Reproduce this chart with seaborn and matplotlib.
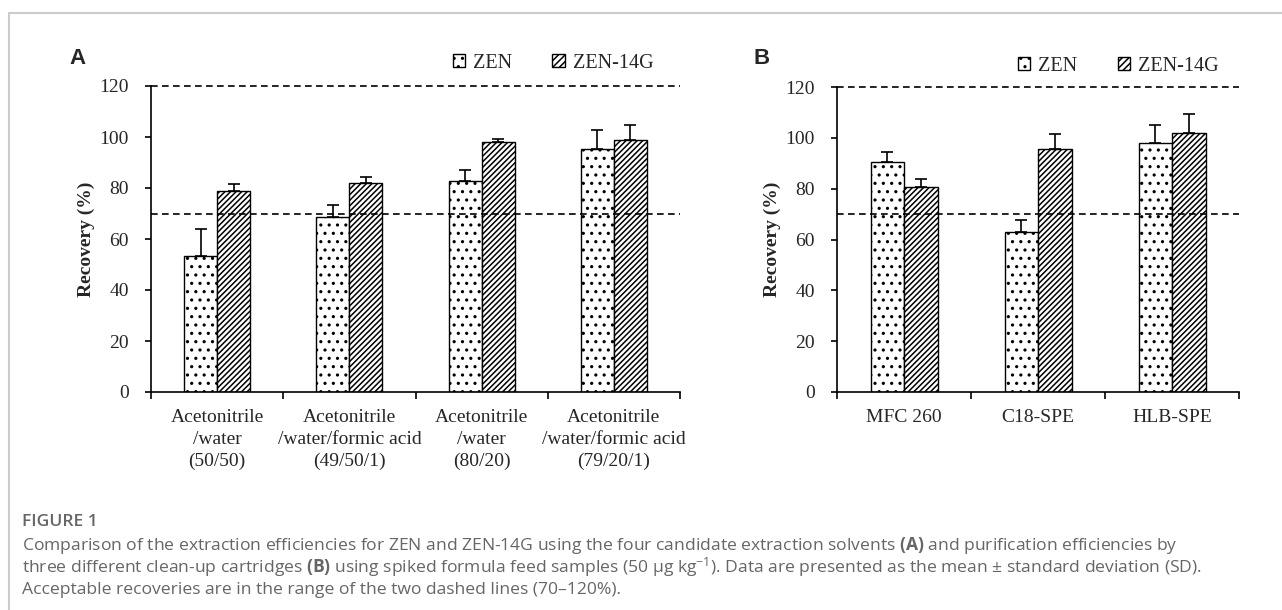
import matplotlib
matplotlib.use("Agg")
import matplotlib.pyplot as plt
import seaborn as sns
import pandas as pd
import numpy as np
from matplotlib.patches import Patch
from matplotlib.lines import Line2D
from matplotlib.ticker import FixedLocator
from matplotlib.container import BarContainer

# ---------------- data ----------------
solvents = ["Acetonitrile\n/water\n(50/50)",
            "Acetonitrile\n/water/formic acid\n(49/50/1)",
            "Acetonitrile\n/water\n(80/20)",
            "Acetonitrile\n/water/formic acid\n(79/20/1)"]
zen_a = [53.5, 68.6, 82.9, 95.2]
zen_a_sd = [10.6, 4.8, 4.3, 7.7]
g_a = [79.0, 82.1, 98.0, 98.9]
g_a_sd = [2.6, 2.2, 1.4, 5.8]

cartridges = ["MFC 260", "C18-SPE", "HLB-SPE"]
zen_b = [90.5, 63.0, 97.9]
zen_b_sd = [3.8, 4.7, 7.3]
g_b = [80.8, 95.7, 102.0]
g_b_sd = [3.0, 6.0, 7.2]

series = ["ZEN", "ZEN-14G"]
lower_limit = 70
upper_limit = 120
yticks = [0, 20, 40, 60, 80, 100, 120]

caption_title = "FIGURE 1"
caption_lines = [
    r"Comparison of the extraction efficiencies for ZEN and ZEN-14G using the four candidate extraction solvents $\mathbf{(A)}$ and purification efficiencies by",
    r"three different clean-up cartridges $\mathbf{(B)}$ using spiked formula feed samples (50 µg kg$^{-1}$). Data are presented as the mean ± standard deviation (SD).",
    r"Acceptable recoveries are in the range of the two dashed lines (70–120%).",
]

# ---------------- style ----------------
sns.set_theme(style="white")
plt.rcParams["font.family"] = ["Liberation Serif", "DejaVu Serif"]
plt.rcParams["mathtext.fontset"] = "custom"
plt.rcParams["mathtext.rm"] = "Open Sans"
plt.rcParams["mathtext.bf"] = "Open Sans:bold"
plt.rcParams["mathtext.it"] = "Open Sans:italic"
plt.rcParams["hatch.linewidth"] = 1.1
plt.rcParams["hatch.color"] = "black"

W, H = 1282, 610
fig = plt.figure(figsize=(W / 100, H / 100), dpi=100)

hatches = ["..", "//////"]
FS = 14


def panel(rect, cats, v1, s1, v2, s2, leg_xy, letter, letter_xy):
    ax = fig.add_axes(rect)
    df = pd.DataFrame({
        "cat": list(cats) * 2,
        "series": [series[0]] * len(cats) + [series[1]] * len(cats),
        "val": list(v1) + list(v2),
    })
    sns.barplot(data=df, x="cat", y="val", hue="series", hue_order=series,
                order=cats, palette=["white", "white"], width=0.5,
                edgecolor="black", linewidth=1.0, errorbar=None,
                legend=False, ax=ax, saturation=1)
    sds = [s1, s2]
    vals = [v1, v2]
    bar_conts = [c for c in ax.containers if isinstance(c, BarContainer)]
    for i, cont in enumerate(bar_conts):
        xs = []
        for p in cont.patches:
            p.set_hatch(hatches[i])
            p.set_edgecolor("black")
            p.set_facecolor("white")
            xs.append(p.get_x() + p.get_width() / 2)
        ax.errorbar(xs, vals[i], yerr=[np.zeros(len(xs)), sds[i]], fmt="none",
                    ecolor="black", elinewidth=1.2, capsize=4, capthick=1.2,
                    zorder=3)
    n = len(cats)
    ax.set_xlim(-0.5, n - 0.5)
    ax.set_ylim(0, upper_limit)
    for yv in (lower_limit, upper_limit):
        ax.axhline(yv, color="black", lw=1.2, ls=(0, (4, 2.6)), clip_on=False,
                   zorder=4)
    ax.set_yticks(yticks)
    ax.set_yticklabels([str(t) for t in yticks], fontsize=FS)
    ax.set_xticks(range(n))
    ax.set_xticklabels(cats, fontsize=FS, linespacing=1.4)
    ax.xaxis.set_minor_locator(FixedLocator(np.arange(-0.5, n, 1.0)))
    ax.tick_params(axis="x", which="major", length=0, pad=12)
    ax.tick_params(axis="x", which="minor", length=5, width=1.2, direction="out",
                   color="black", bottom=True)
    ax.tick_params(axis="y", length=4, width=1.2, direction="out", pad=12,
                   color="black", left=True)
    ax.set_xlabel("")
    ax.set_ylabel("Recovery (%)", fontsize=FS, fontweight="bold", labelpad=3)
    for s in ("top", "right"):
        ax.spines[s].set_visible(False)
    for s in ("left", "bottom"):
        ax.spines[s].set_color("black")
        ax.spines[s].set_linewidth(1.2)
    handles = [Patch(facecolor="white", edgecolor="black", hatch="..", lw=1.0),
               Patch(facecolor="white", edgecolor="black", hatch="/////", lw=1.0)]
    ax.legend(handles, series, loc="center", bbox_to_anchor=leg_xy,
              ncol=2, frameon=False, fontsize=14.5, handlelength=0.6,
              handleheight=0.6, handletextpad=0.4, columnspacing=2.0)
    fig.text(letter_xy[0] / W, 1 - letter_xy[1] / H, letter, fontsize=16,
             fontweight="bold", family="Liberation Sans", ha="center",
             va="center")
    return ax


axA = panel([151 / W, 1 - 392 / H, (680 - 151) / W, (392 - 86) / H],
            solvents, zen_a, zen_a_sd, g_a, g_a_sd, (0.76, 1.075), "A", (78, 58))
axB = panel([837 / W, 1 - 392 / H, (1239 - 837) / W, (392 - 87) / H],
            cartridges, zen_b, zen_b_sd, g_b, g_b_sd, (0.70, 1.068), "B", (762, 58))

# frame lines
fig.add_artist(Line2D([9 / W, 1], [1 - 13 / H, 1 - 13 / H], color="#cccccc",
                      lw=1.5, transform=fig.transFigure))
fig.add_artist(Line2D([9 / W, 9 / W], [0, 1 - 13 / H], color="#cccccc",
                      lw=1.5, transform=fig.transFigure))

# caption
cap_kw = dict(fontsize=12.6, color="#666666", family=["Open Sans", "DejaVu Sans"],
              ha="left", va="center")
fig.text(22 / W, 1 - 522 / H, caption_title, fontweight="semibold", **cap_kw)
for i, line in enumerate(caption_lines):
    fig.text(22 / W, 1 - (545 + 22.5 * i) / H, line, **cap_kw)

fig.savefig("out.png", dpi=100)
